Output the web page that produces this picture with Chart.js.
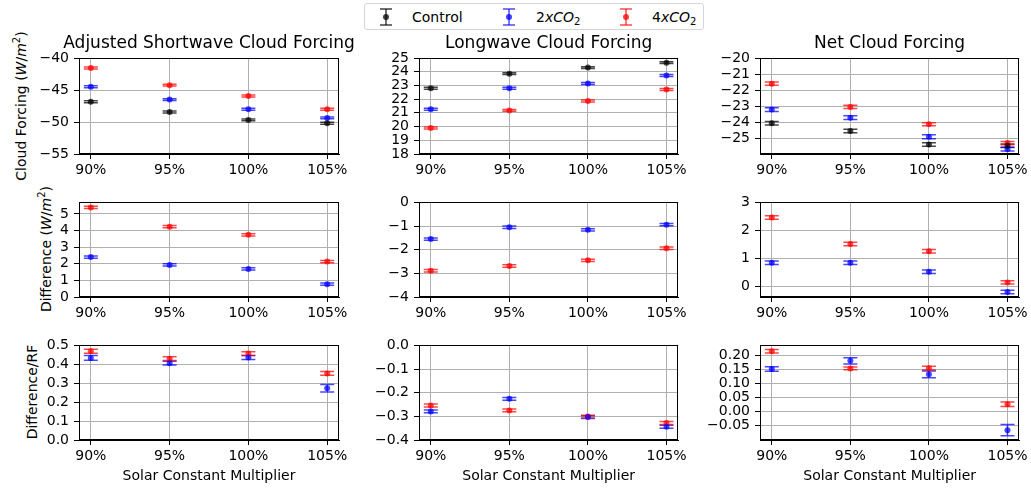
<!DOCTYPE html>
<html>
<head>
<meta charset="utf-8">
<script src="https://cdn.jsdelivr.net/npm/chart.js@4"></script>
<style>
  body { margin: 0; background: #fff; font-family: "DejaVu Sans", sans-serif; }
  #wrap { position: relative; width: 1031px; height: 489px; overflow: hidden; }
  .panel { position: absolute; }
  .ylab { position: absolute; white-space: nowrap; font-size: 14px; color: #000;
          transform: translate(-50%, -50%) rotate(-90deg); }
  #legend { position: absolute; left: 364px; top: 3px; width: 338px; height: 25px;
            border: 1px solid #d5d5d5; border-radius: 3px; font-size: 14px; }
  .lg-item { position: absolute; top: 4px; line-height: 18px; }
  .lg-icon { position: absolute; top: 4px; }
  sub { font-size: 10px; vertical-align: -3px; }
  sup { font-size: 10px; vertical-align: 6px; }
</style>
</head>
<body>
<div id="wrap">
  <div id="legend">
    <svg class="lg-icon" style="left:13px" width="16" height="18"><g stroke="rgba(0,0,0,0.75)" stroke-width="1.5"><line x1="8" y1="1" x2="8" y2="17"/><line x1="2" y1="1" x2="14" y2="1"/><line x1="2" y1="17" x2="14" y2="17"/></g><circle cx="8" cy="9" r="3" fill="rgba(0,0,0,0.75)"/></svg>
    <span class="lg-item" style="left:47px">Control</span>
    <svg class="lg-icon" style="left:136px" width="16" height="18"><g stroke="rgba(0,0,255,0.7)" stroke-width="1.5"><line x1="8" y1="1" x2="8" y2="17"/><line x1="2" y1="1" x2="14" y2="1"/><line x1="2" y1="17" x2="14" y2="17"/></g><circle cx="8" cy="9" r="3" fill="rgba(0,0,255,0.75)"/></svg>
    <span class="lg-item" style="left:171px">2<i>xCO</i><sub>2</sub></span>
    <svg class="lg-icon" style="left:253px" width="16" height="18"><g stroke="rgba(255,0,0,0.7)" stroke-width="1.5"><line x1="8" y1="1" x2="8" y2="17"/><line x1="2" y1="1" x2="14" y2="1"/><line x1="2" y1="17" x2="14" y2="17"/></g><circle cx="8" cy="9" r="3" fill="rgba(255,0,0,0.75)"/></svg>
    <span class="lg-item" style="left:287px">4<i>xCO</i><sub>2</sub></span>
  </div>

  <div class="ylab" style="left:20px; top:106px">Cloud Forcing (<i>W</i>/<i>m</i><sup>2</sup>)</div>
  <div class="ylab" style="left:45px; top:249px">Difference (<i>W</i>/<i>m</i><sup>2</sup>)</div>
  <div class="ylab" style="left:32px; top:392px">Difference/RF</div>

  <div class="panel" style="left:0px; top:30px"><canvas id="p11" width="358" height="154"></canvas></div>
  <div class="panel" style="left:359px; top:30px"><canvas id="p12" width="331" height="154"></canvas></div>
  <div class="panel" style="left:690px; top:30px"><canvas id="p13" width="341" height="154"></canvas></div>

  <div class="panel" style="left:0px; top:189px"><canvas id="p21" width="358" height="138"></canvas></div>
  <div class="panel" style="left:359px; top:189px"><canvas id="p22" width="331" height="138"></canvas></div>
  <div class="panel" style="left:690px; top:189px"><canvas id="p23" width="341" height="138"></canvas></div>

  <div class="panel" style="left:0px; top:332px"><canvas id="p31" width="358" height="156"></canvas></div>
  <div class="panel" style="left:359px; top:332px"><canvas id="p32" width="331" height="156"></canvas></div>
  <div class="panel" style="left:690px; top:332px"><canvas id="p33" width="341" height="156"></canvas></div>
</div>

<script>
// categories (solar constant multiplier)
const categories = ['90%', '95%', '100%', '105%'];

// Row 1: absolute cloud forcing (W/m2)
const swControl = [-46.83, -48.43, -49.67, -50.19];
const sw2x      = [-44.50, -46.50, -48.00, -49.36];
const sw4x      = [-41.55, -44.24, -45.95, -48.00];
const swErr     = [0.15, 0.15, 0.15, 0.15];

const lwControl = [22.80, 23.86, 24.30, 24.66];
const lw2x      = [21.26, 22.80, 23.14, 23.72];
const lw4x      = [19.90, 21.18, 21.86, 22.70];
const lwErr     = [0.07, 0.07, 0.07, 0.07];

const netControl = [-24.06, -24.54, -25.38, -25.46];
const net2x      = [-23.21, -23.71, -24.90, -25.67];
const net4x      = [-21.60, -23.04, -24.12, -25.29];
const netCtlErr  = [0.11, 0.11, 0.11, 0.11];
const net2xErr   = [0.12, 0.12, 0.12, 0.12];
const net4xErr   = [0.10, 0.10, 0.10, 0.10];

// Row 2: difference from control (W/m2)
const dSw2x  = [2.40, 1.93, 1.69, 0.77];
const dSw4x  = [5.39, 4.23, 3.74, 2.13];
const dSwErr = [0.07, 0.07, 0.07, 0.07];

const dLw2x  = [-1.55, -1.05, -1.16, -0.94];
const dLw4x  = [-2.89, -2.69, -2.45, -1.94];
const dLwErr = [0.05, 0.05, 0.05, 0.05];

const dNet2x  = [0.85, 0.85, 0.53, -0.19];
const dNet4x  = [2.46, 1.52, 1.26, 0.15];
const dNetErr = [0.06, 0.06, 0.06, 0.06];

// Row 3: difference / RF
const rSw2x    = [0.434, 0.406, 0.436, 0.274];
const rSw4x    = [0.469, 0.430, 0.457, 0.352];
const rSw2xErr = [0.012, 0.010, 0.010, 0.020];
const rSw4xErr = [0.010, 0.010, 0.010, 0.010];

const rLw2x  = [-0.279, -0.226, -0.303, -0.344];
const rLw4x  = [-0.254, -0.275, -0.301, -0.328];
const rLwErr = [0.006, 0.006, 0.006, 0.006];

const rNet2x    = [0.151, 0.180, 0.132, -0.067];
const rNet4x    = [0.214, 0.153, 0.154, 0.025];
const rNet2xErr = [0.008, 0.011, 0.012, 0.020];
const rNet4xErr = [0.006, 0.005, 0.007, 0.008];

// tick labels for every y axis
const swTicks   = [-55, -50, -45, -40];
const lwTicks   = [18, 19, 20, 21, 22, 23, 24, 25];
const netTicks  = [-25, -24, -23, -22, -21, -20];
const dSwTicks  = [0, 1, 2, 3, 4, 5];
const dLwTicks  = [-4, -3, -2, -1, 0];
const dNetTicks = [0, 1, 2, 3];
const rSwTicks  = [0, 0.1, 0.2, 0.3, 0.4, 0.5];
const rLwTicks  = [-0.4, -0.3, -0.2, -0.1, 0];
const rNetTicks = [-0.05, 0, 0.05, 0.1, 0.15, 0.2];

const BLACK = 'rgba(0,0,0,0.72)';
const BLUE = 'rgba(0,0,255,0.72)';
const RED = 'rgba(255,0,0,0.72)';

Chart.defaults.font.family = '"DejaVu Sans", sans-serif';
Chart.defaults.font.size = 14;
Chart.defaults.color = '#000';

// error bars with caps, drawn from the y scale
const errorBars = {
  id: 'errorBars',
  beforeDatasetsDraw(chart) {
    const ctx = chart.ctx;
    const ys = chart.scales.y;
    chart.data.datasets.forEach((ds, i) => {
      const meta = chart.getDatasetMeta(i);
      ctx.save();
      ctx.strokeStyle = ds.borderColor;
      ctx.lineWidth = 1.5;
      meta.data.forEach((pt, j) => {
        const v = ds.data[j].y;
        const e = ds.errors[j];
        const top = ys.getPixelForValue(v + e);
        const bot = ys.getPixelForValue(v - e);
        ctx.beginPath();
        ctx.moveTo(pt.x, top); ctx.lineTo(pt.x, bot);
        ctx.moveTo(pt.x - 7, top); ctx.lineTo(pt.x + 7, top);
        ctx.moveTo(pt.x - 7, bot); ctx.lineTo(pt.x + 7, bot);
        ctx.stroke();
      });
      ctx.restore();
    });
  }
};

// box around the plot area (matplotlib spines) + panel title centred on the axes
const frame = {
  id: 'frame',
  afterDraw(chart, args, opts) {
    const a = chart.chartArea;
    const ctx = chart.ctx;
    ctx.save();
    ctx.strokeStyle = '#000';
    ctx.lineWidth = 1;
    ctx.strokeRect(Math.round(a.left) + 0.5, Math.round(a.top) + 0.5,
      Math.round(a.right - a.left) - 1, Math.round(a.bottom - a.top) - 1);
    if (opts.text) {
      ctx.fillStyle = '#000';
      ctx.font = '17px "DejaVu Sans", sans-serif';
      ctx.textAlign = 'center';
      ctx.textBaseline = 'middle';
      ctx.fillText(opts.text, (a.left + a.right) / 2, a.top - 14);
    }
    ctx.restore();
  }
};

function series(values, errors, color) {
  return {
    data: values.map((v, i) => ({ x: i, y: v })),
    errors: errors,
    borderColor: color,
    backgroundColor: color,
    pointRadius: 3,
    pointBorderWidth: 0,
    showLine: false
  };
}

function fmt(v, dec) {
  const s = Math.abs(v).toFixed(dec);
  return (v < -1e-9 ? '\u2212' : '') + s;
}

function makePanel(id, opt) {
  new Chart(document.getElementById(id), {
    type: 'scatter',
    data: { datasets: opt.datasets },
    plugins: [errorBars, frame],
    options: {
      responsive: false,
      animation: false,
      layout: { padding: { top: opt.title ? 28 : 12, right: opt.rp, left: 0, bottom: 0 } },
      plugins: {
        legend: { display: false },
        tooltip: { enabled: false },
        frame: { text: opt.title || '' }
      },
      scales: {
        x: {
          type: 'linear',
          min: -0.15,
          max: 3.15,
          afterBuildTicks: s => { s.ticks = categories.map((c, i) => ({ value: i })); },
          afterFit: s => { s.height = opt.xh; },
          ticks: { padding: 3, maxRotation: 0, autoSkip: false, callback: v => categories[v] },
          grid: { color: '#b0b0b0', lineWidth: 1, tickColor: '#000', tickLength: 5 },
          border: { color: '#000' },
          title: {
            display: !!opt.xTitle,
            text: opt.xTitle,
            color: '#000',
            font: { size: 14 },
            padding: { top: 0, bottom: 3 }
          }
        },
        y: {
          min: opt.min,
          max: opt.max,
          afterBuildTicks: s => { s.ticks = opt.ticks.map(v => ({ value: v })); },
          afterFit: s => { s.width = opt.yw; },
          ticks: { padding: 5, autoSkip: false, callback: v => fmt(v, opt.dec) },
          grid: { color: '#b0b0b0', lineWidth: 1, tickColor: '#000', tickLength: 5 },
          border: { color: '#000' }
        }
      }
    }
  });
}

// Row 1
makePanel('p11', { title: 'Adjusted Shortwave Cloud Forcing', yw: 79, rp: 19, xh: 30,
  min: -55, max: -40, ticks: swTicks, dec: 0,
  datasets: [series(swControl, swErr, BLACK), series(sw2x, swErr, BLUE), series(sw4x, swErr, RED)] });
makePanel('p12', { title: 'Longwave Cloud Forcing', yw: 60, rp: 11, xh: 30,
  min: 18, max: 25, ticks: lwTicks, dec: 0,
  datasets: [series(lwControl, lwErr, BLACK), series(lw2x, lwErr, BLUE), series(lw4x, lwErr, RED)] });
makePanel('p13', { title: 'Net Cloud Forcing', yw: 70, rp: 11, xh: 30,
  min: -25.97, max: -20, ticks: netTicks, dec: 0,
  datasets: [series(netControl, netCtlErr, BLACK), series(net2x, net2xErr, BLUE), series(net4x, net4xErr, RED)] });

// Row 2
makePanel('p21', { yw: 79, rp: 19, xh: 30, min: 0, max: 5.69, ticks: dSwTicks, dec: 0,
  datasets: [series(dSw2x, dSwErr, BLUE), series(dSw4x, dSwErr, RED)] });
makePanel('p22', { yw: 60, rp: 11, xh: 30, min: -4, max: 0, ticks: dLwTicks, dec: 0,
  datasets: [series(dLw2x, dLwErr, BLUE), series(dLw4x, dLwErr, RED)] });
makePanel('p23', { yw: 70, rp: 11, xh: 30, min: -0.37, max: 3, ticks: dNetTicks, dec: 0,
  datasets: [series(dNet2x, dNetErr, BLUE), series(dNet4x, dNetErr, RED)] });

// Row 3
makePanel('p31', { yw: 79, rp: 19, xh: 48, xTitle: 'Solar Constant Multiplier', min: 0, max: 0.5, ticks: rSwTicks, dec: 1,
  datasets: [series(rSw2x, rSw2xErr, BLUE), series(rSw4x, rSw4xErr, RED)] });
makePanel('p32', { yw: 60, rp: 11, xh: 48, xTitle: 'Solar Constant Multiplier', min: -0.4, max: 0, ticks: rLwTicks, dec: 1,
  datasets: [series(rLw2x, rLwErr, BLUE), series(rLw4x, rLwErr, RED)] });
makePanel('p33', { yw: 70, rp: 11, xh: 48, xTitle: 'Solar Constant Multiplier', min: -0.102, max: 0.235, ticks: rNetTicks, dec: 2,
  datasets: [series(rNet2x, rNet2xErr, BLUE), series(rNet4x, rNet4xErr, RED)] });
</script>
</body>
</html>
